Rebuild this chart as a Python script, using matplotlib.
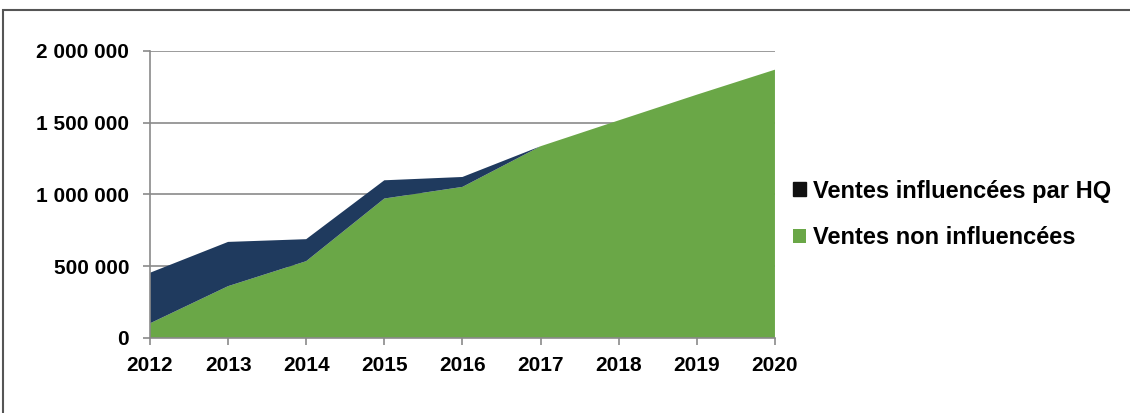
import numpy as np
import matplotlib.pyplot as plt
from matplotlib.patches import Rectangle
from matplotlib.ticker import FuncFormatter

plt.rcParams['font.family'] = ['Liberation Sans', 'DejaVu Sans']
plt.rcParams['font.weight'] = 'bold'

years = [2012, 2013, 2014, 2015, 2016, 2017, 2018, 2019, 2020]
non_influenced = [102000, 361000, 535000, 971000, 1052000, 1335000, 1515000, 1694000, 1868000]
influenced = [352000, 308000, 153000, 127000, 69000, 0, 0, 0, 0]
labels = ["Ventes influencées par HQ", "Ventes non influencées"]
yticks = [0, 500000, 1000000, 1500000, 2000000]

navy = "#1f3a5e"
green = "#6aa747"

fig = plt.figure(figsize=(11.3, 4.13), dpi=100)
ax = fig.add_axes([0.1327, 0.1816, 0.5531, 0.6956])

ax.stackplot(years, non_influenced, influenced, colors=[green, navy],
             labels=[labels[1], labels[0]], zorder=2)

ax.set_xlim(years[0], years[-1])
ax.set_ylim(0, 2000000)
ax.set_xticks(years)
ax.set_yticks(yticks)
ax.yaxis.set_major_formatter(FuncFormatter(lambda v, p: f"{int(v):,}".replace(",", " ")))
ax.grid(axis="y", color="#8a8a8a", linewidth=1.2, zorder=1)
ax.set_axisbelow(True)

for s in ["top", "right"]:
    ax.spines[s].set_visible(False)
for s in ["left", "bottom"]:
    ax.spines[s].set_color("#8a8a8a")
    ax.spines[s].set_linewidth(1.2)

ax.tick_params(axis="both", labelsize=15, colors="#8a8a8a", labelcolor="black", length=5, width=1.2)
ax.tick_params(axis="x", pad=8)
ax.tick_params(axis="y", pad=10)

# legend: influenced first
handles, lbls = ax.get_legend_handles_labels()
leg = ax.legend(handles[::-1], lbls[::-1], loc="center left", bbox_to_anchor=(1.01, 0.43),
                frameon=False, fontsize=17, handlelength=0.55, handleheight=0.55,
                handletextpad=0.3, labelspacing=1.0, borderpad=0)
leg.legend_handles[0].set_color("#111111")

# outer frame (left and top edges visible)
fig.patches.append(Rectangle((0.003, -0.1), 1.2, 1.075, transform=fig.transFigure,
                             fill=False, edgecolor="#555555", linewidth=1.5))

fig.savefig("out.png", dpi=100)
